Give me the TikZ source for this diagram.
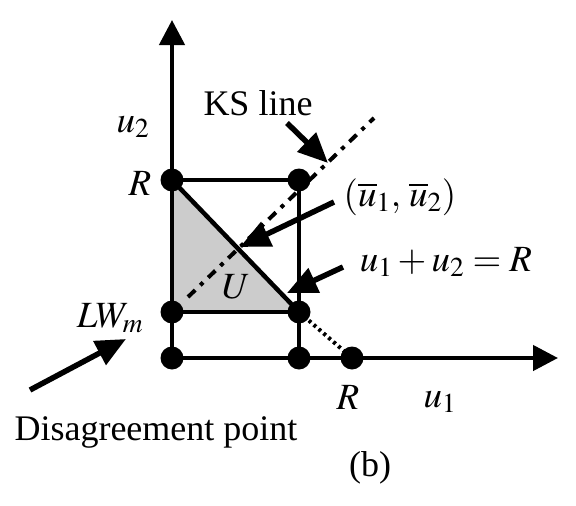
\documentclass[tikz,border=0pt]{standalone}
\usepackage{mathptmx}
\usepackage{fontspec}
\setmainfont{Liberation Serif}
\usetikzlibrary{arrows.meta}
\begin{document}
\begin{tikzpicture}[x=1pt,y=-1pt,
  every node/.style={font=\fontsize{37}{42}\selectfont, inner sep=0pt},
  txt/.style={font=\fontsize{36}{42}\selectfont},
  dot/.style={circle,fill=black,minimum size=23pt,inner sep=0pt},
  axis/.style={line width=4.5pt,-{Triangle[length=25pt,width=25pt]}},
  box/.style={line width=4.5pt},
  pointer/.style={line width=5.5pt,-{Triangle[length=30pt,width=26pt]}},
  ksline/.style={line width=4pt,dash pattern=on 10pt off 7pt on 4pt off 7pt},
  dotline/.style={line width=4pt,dash pattern=on 3pt off 3.5pt}]
\path[use as bounding box] (0,0) rectangle (576,506);
% points
\coordinate (O) at (172,358);
\coordinate (Ly) at (172,312);
\coordinate (Ry) at (172,180);
\coordinate (Rx) at (352,358);
\coordinate (B) at (299,358);
\coordinate (C) at (299,312);
\coordinate (D) at (299,180);
\coordinate (Ytip) at (172,20);
\coordinate (Xtip) at (558,358);
\coordinate (KSa) at (188,297);
\coordinate (KSb) at (374,118);
% shaded region
\fill[gray!40] (Ry) -- (Ly) -- (C) -- cycle;
% KS line
\draw[ksline] (KSa) -- (KSb);
% box
\draw[box] (Ly) -- (C);
\draw[box] (Ry) -- (D);
\draw[box] (D) -- (B);
\draw[box] (Ry) -- (C);
\draw[dotline] (C) -- (Rx);
% axes
\draw[axis] (O) -- (Ytip);
\draw[axis] (O) -- (Xtip);
% dots
\foreach \p in {O,Ly,Ry,Rx,B,C,D} \node[dot] at (\p) {};
% labels
\node[txt] (ks) at (258,103) {KS line};
\node (ubar) at (400,197) {$(\overline{u}_1,\,\overline{u}_2)$};
\node (sum) at (446,262) {$u_1+u_2=R$};
\node (u2) at (133,127) {$u_2$};
\node (Rl) at (140,183) {$R$};
\node (LW) at (110,318) {$LW_m$};
\node (Rb) at (348,397) {$R$};
\node (u1) at (440,402) {$u_1$};
\node[txt] (dis) at (156,432) {Disagreement point};
\node[txt] (b) at (370,468) {(b)};
\node (U) at (236,287) {$U$};
% pointers
\coordinate (p1a) at (287,123); \coordinate (p1b) at (328,163);
\coordinate (p2a) at (334,202); \coordinate (p2b) at (240,247);
\coordinate (p3a) at (343,267); \coordinate (p3b) at (287,293);
\coordinate (p4a) at (30,390);  \coordinate (p4b) at (126,339);
\draw[pointer] (p1a) -- (p1b);
\draw[pointer] (p2a) -- (p2b);
\draw[pointer] (p3a) -- (p3b);
\draw[pointer] (p4a) -- (p4b);
\end{tikzpicture}
\end{document}
